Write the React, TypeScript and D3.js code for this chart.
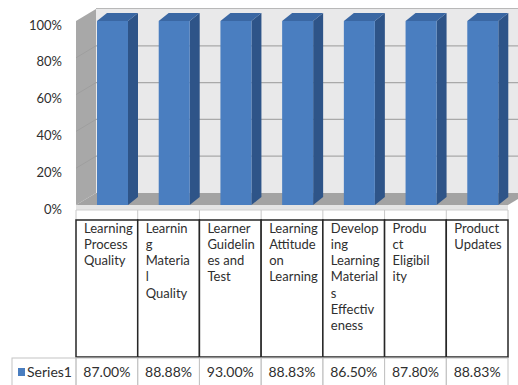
import React from "react";
import * as d3 from "d3";

const categories = [
  "Learning Process Quality",
  "Learning Material Quality",
  "Learner Guidelines and Test",
  "Learning Attitude on Learning",
  "Developing Learning Materials Effectiveness",
  "Product Eligibility",
  "Product Updates",
];
const categoryLines = [
  ["Learning", "Process", "Quality"],
  ["Learnin", "g", "Materia", "l", "Quality"],
  ["Learner", "Guidelin", "es and", "Test"],
  ["Learning", "Attitude", "on", "Learning"],
  ["Develop", "ing", "Learning", "Material", "s", "Effectiv", "eness"],
  ["Produ", "ct", "Eligibil", "ity"],
  ["Product", "Updates"],
];
// bar heights as drawn in the picture (all reach the 100% level)
const barValues = [100, 100, 100, 100, 100, 100, 100];
// values shown in the data table
const tableValues = ["87.00%", "88.88%", "93.00%", "88.83%", "86.50%", "87.80%", "88.83%"];
const seriesName = "Series1";
const yTicks = [0, 20, 40, 60, 80, 100];

const W = 518;
const H = 385;
const FONT = "Lato, 'Open Sans', sans-serif";

export default function App() {
  const x = d3.scaleBand<string>().domain(categories).range([76, 508]).paddingInner(0).paddingOuter(0);
  const yF = d3.scaleLinear().domain([0, 100]).range([205, 21]);
  const DX = 20, DY = -12; // depth of the plot box
  const yB = (v: number) => yF(v) + DY;
  const bw = 31, bdx = 10, bdy = -8, bOff = 21;
  const x0 = 76, x1 = 508;

  const headerTop = 220, headerBot = 357, rowTop = 358, rowBot = 392;
  const lineH = 16.3;
  const txt = "#2f2f2f";

  const pts = (a: number[][]) => a.map((p) => p.join(",")).join(" ");

  return (
    <svg width={W} height={H} style={{ position: "absolute", left: 0, top: 0, background: "#fff" }}>
      {/* back wall */}
      <rect x={x0 + DX} y={yB(100)} width={W} height={yB(0) - yB(100)} fill="#e9e9ea" />
      <line x1={x0 + DX} x2={W} y1={yB(100) - 0.5} y2={yB(100) - 0.5} stroke="#b8b8b8" strokeWidth={1.2} />
      {yTicks.filter((t) => t > 0 && t < 100).map((t) => (
        <line key={"g" + t} x1={x0 + DX} x2={W} y1={yB(t)} y2={yB(t)} stroke="#a9a9a9" strokeWidth={1.2} />
      ))}
      {/* side wall */}
      <polygon points={pts([[x0, yF(100)], [x0 + DX, yB(100)], [x0 + DX, yB(0)], [x0, yF(0)]])} fill="#a8a8a8" />
      {yTicks.filter((t) => t > 0 && t < 100).map((t) => (
        <line key={"s" + t} x1={x0} x2={x0 + DX} y1={yF(t)} y2={yB(t)} stroke="#9c9c9c" strokeWidth={0.8} />
      ))}
      {/* floor */}
      <polygon points={pts([[x0, yF(0)], [x1, yF(0)], [x1 + DX, yB(0)], [x0 + DX, yB(0)]])} fill="#a3a3a3" />
      <rect x={x0} y={yF(0)} width={x1 - x0} height={5} fill="#e4e4e4" />
      <line x1={x0} x2={x1} y1={210} y2={210} stroke="#cfcfcf" strokeWidth={1} />
      {/* category ticks */}
      {[...categories.map((c) => x(c)!), x1].map((xx, i) => (
        <line key={"t" + i} x1={xx} x2={xx} y1={210} y2={headerTop} stroke="#c8c8c8" strokeWidth={1} />
      ))}
      {/* bars */}
      {categories.map((c, i) => {
        const bx = x(c)! + bOff;
        const top = yF(barValues[i]);
        const bot = yF(0);
        return (
          <g key={"b" + i}>
            <polygon points={pts([[bx + bw, top], [bx + bw + bdx, top + bdy], [bx + bw + bdx, bot + bdy], [bx + bw, bot]])} fill="#2e5488" />
            <polygon points={pts([[bx, top], [bx + bdx, top + bdy], [bx + bw + bdx, top + bdy], [bx + bw, top]])} fill="#3a67a3" />
            <rect x={bx} y={top} width={bw} height={bot - top} fill="#4a7ec0" />
          </g>
        );
      })}
      {/* y labels */}
      {yTicks.map((t) => (
        <text key={"y" + t} x={62} y={yF(t) + 4} dy="0.35em" textAnchor="end" fontFamily={FONT} fontSize={13} fill={txt}>
          {t + "%"}
        </text>
      ))}
      {/* table header row */}
      {categories.map((c, i) => (
        <g key={"h" + i}>
          <rect x={x(c)!} y={headerTop} width={x.bandwidth()} height={headerBot - headerTop} fill="#fff" stroke="#262626" strokeWidth={1.5} />
          {categoryLines[i].map((ln, j) => (
            <text key={j} x={x(c)! + 8} y={headerTop + 8 + j * lineH} dy="0.35em" fontFamily={FONT} fontSize={13} fill={txt}>
              {ln}
            </text>
          ))}
        </g>
      ))}
      {/* series row */}
      <rect x={12} y={rowTop} width={x0 - 12} height={rowBot - rowTop} fill="#fff" stroke="#c4c4c4" strokeWidth={1} />
      <rect x={18} y={368} width={7} height={8} fill="#4a7ec0" />
      <text x={27} y={372} dy="0.35em" fontFamily={FONT} fontSize={14} fill={txt}>{seriesName}</text>
      {categories.map((c, i) => (
        <g key={"v" + i}>
          <rect x={x(c)!} y={rowTop} width={x.bandwidth()} height={rowBot - rowTop} fill="none" stroke="#c4c4c4" strokeWidth={1} />
          <text x={x(c)! + x.bandwidth() / 2} y={372} dy="0.35em" textAnchor="middle" fontFamily={FONT} fontSize={14} fill={txt}>
            {tableValues[i]}
          </text>
        </g>
      ))}
    </svg>
  );
}
